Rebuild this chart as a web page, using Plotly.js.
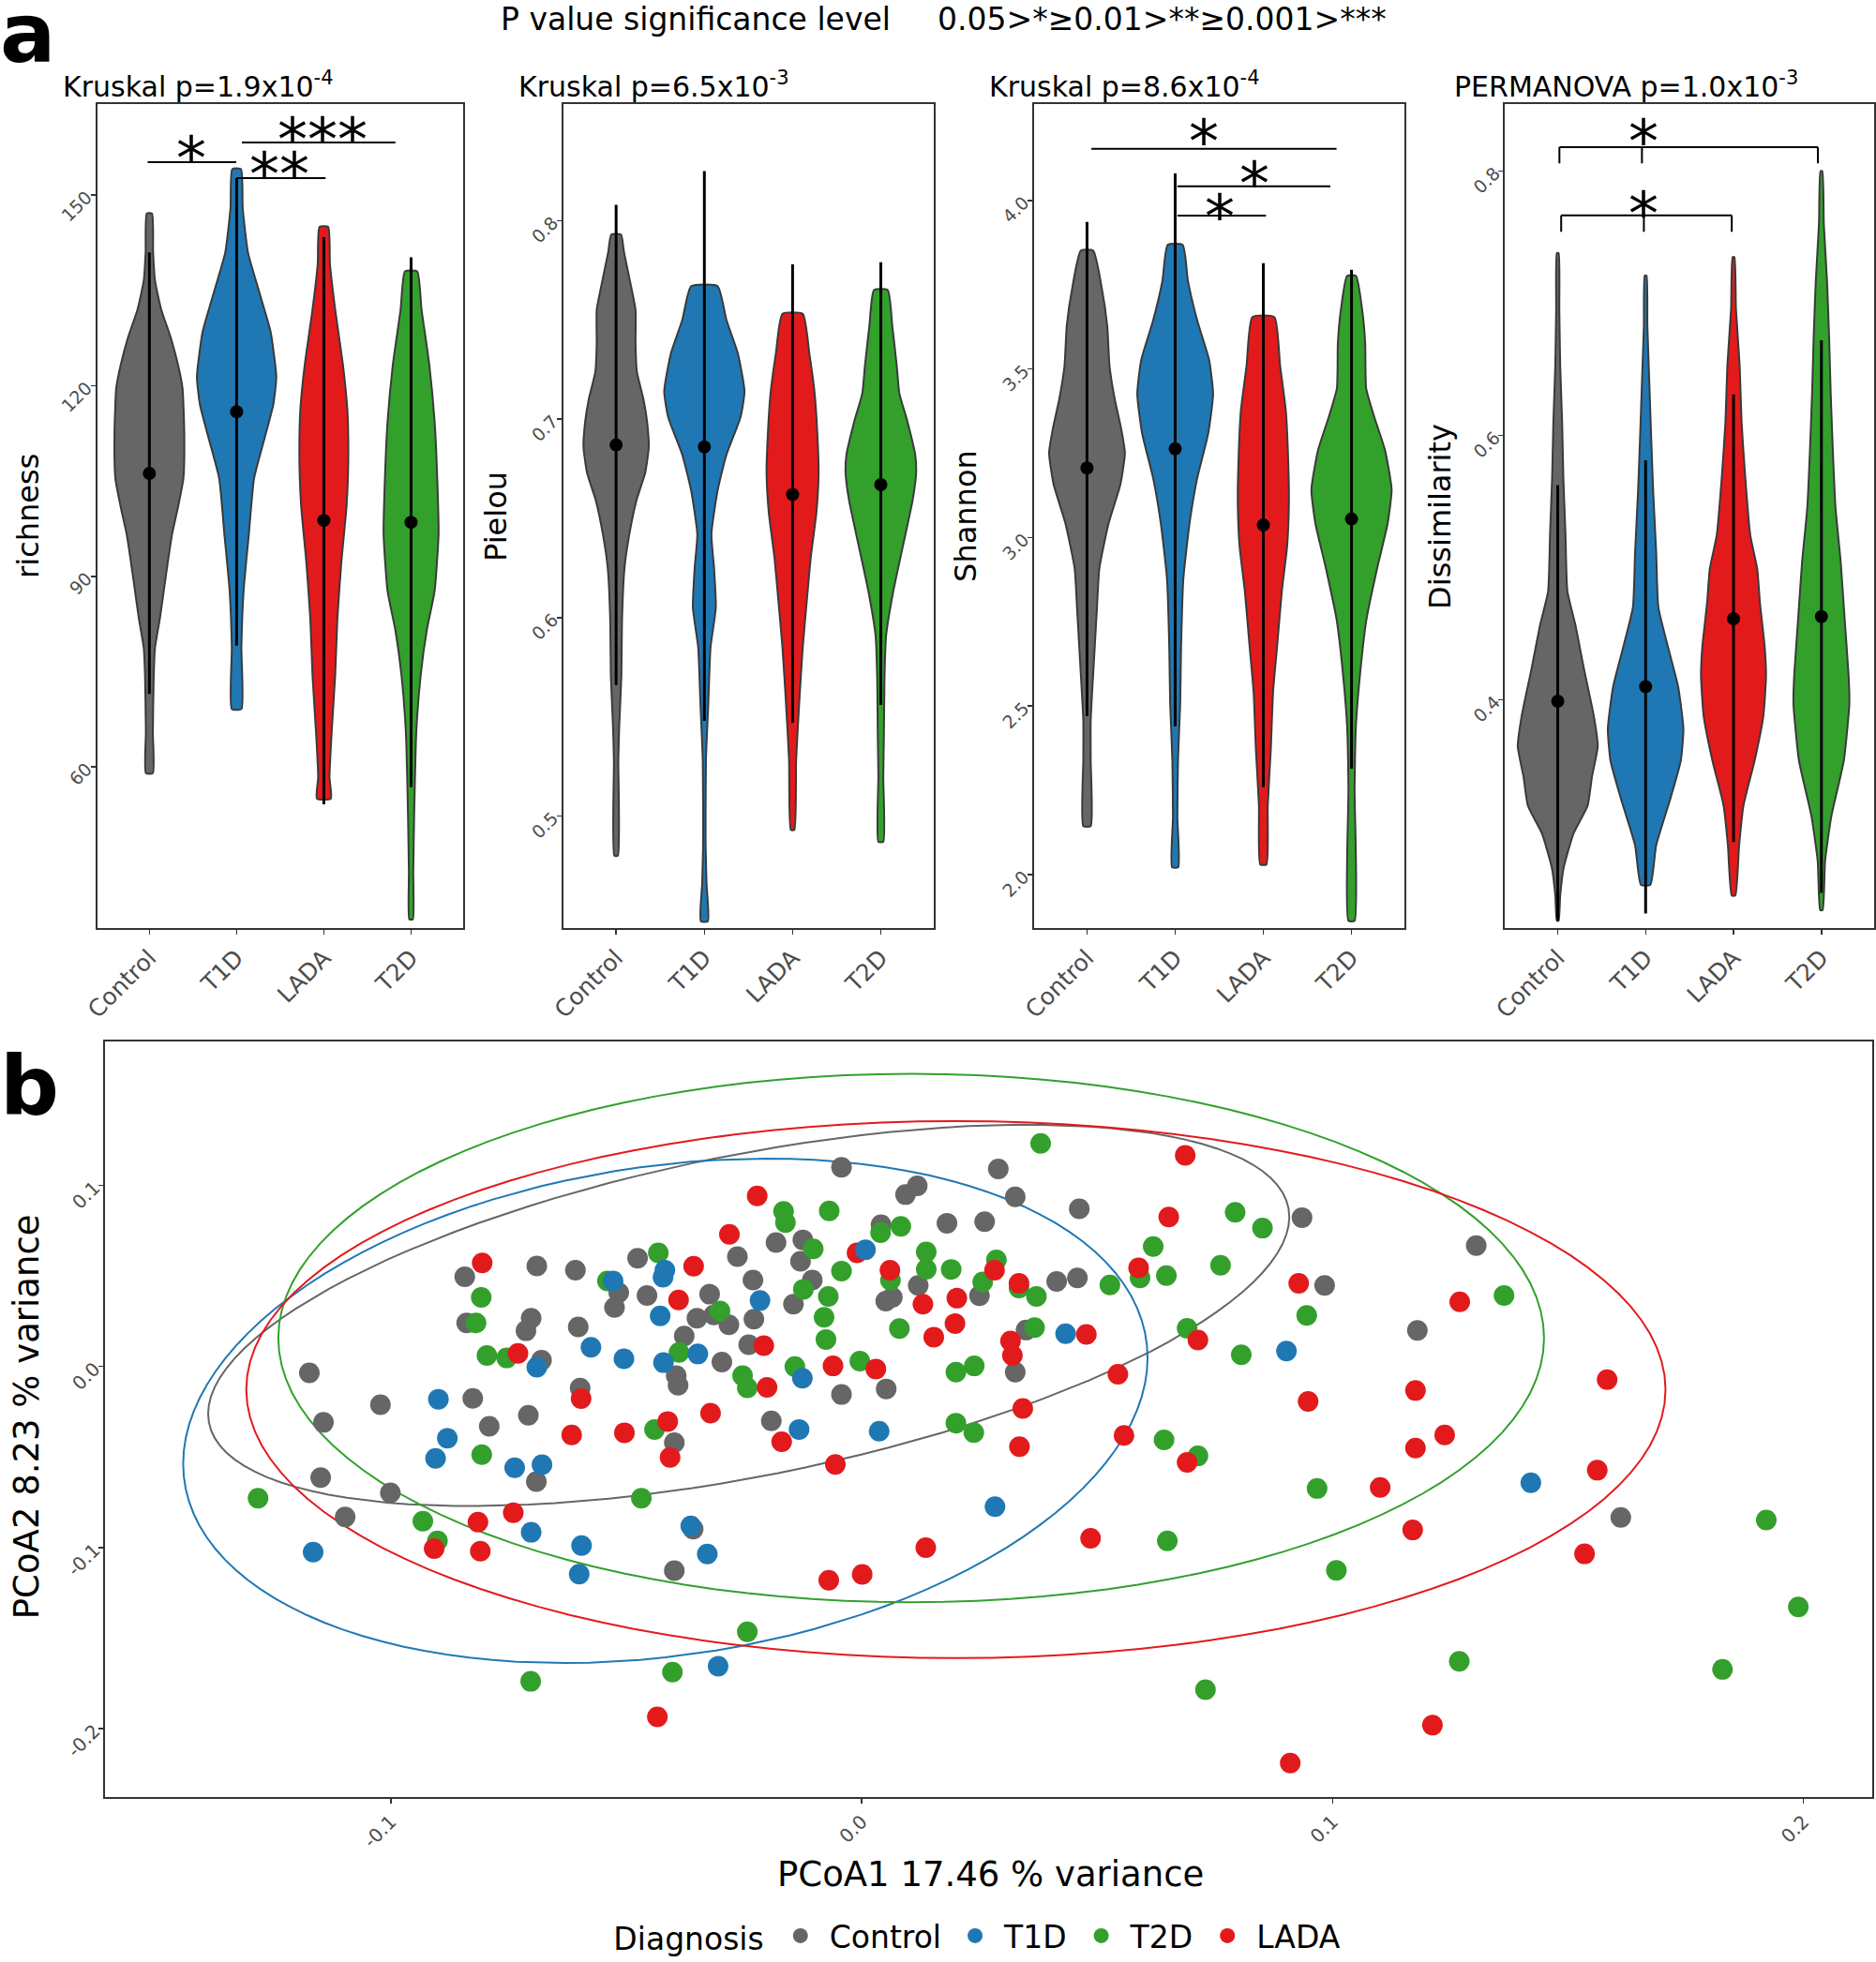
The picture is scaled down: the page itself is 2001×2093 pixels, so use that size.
<!DOCTYPE html>
<html><head><meta charset="utf-8">
<script src="https://cdn.plot.ly/plotly-3.0.1.min.js"></script>
<style>body{margin:0;background:#fff}</style></head>
<body><div id="chart" style="width:2001px;height:2093px"></div>
<script>
// ---------- categories ----------
const groups = ['Control', 'T1D', 'LADA', 'T2D'];
const groupColors = ['#666666', '#1F78B4', '#E31A1C', '#33A02C'];

// ---------- richness violins (value, half-width) ----------
const richControlY = [59, 65.5, 74.4, 78.8, 83.3, 87.7, 92.1, 96.6, 101, 105.4, 112.5, 119.6, 123.2, 127.6, 132, 136.5, 141, 147.1];
const richControlW = [0.04, 0.04, 0.05, 0.065, 0.12, 0.165, 0.21, 0.26, 0.33, 0.39, 0.40, 0.38, 0.33, 0.245, 0.136, 0.065, 0.043, 0.03];
const richT1DY = [69.1, 78.8, 87.7, 96.6, 105.4, 111.7, 117, 121.4, 128.5, 133.8, 141, 148, 154.1];
const richT1DW = [0.055, 0.055, 0.08, 0.14, 0.20, 0.32, 0.42, 0.455, 0.39, 0.28, 0.13, 0.07, 0.05];
const richLADAY = [55, 58.4, 65.5, 74.4, 83.3, 92.1, 101, 108.1, 116.1, 123.2, 132, 139.2, 145];
const richLADAW = [0.08, 0.065, 0.09, 0.13, 0.155, 0.20, 0.26, 0.28, 0.27, 0.22, 0.13, 0.07, 0.05];
const richT2DY = [36, 43.4, 52.2, 65.5, 74.4, 81.5, 87.7, 96.6, 105.4, 114.3, 123.2, 132, 138];
const richT2DW = [0.02, 0.025, 0.035, 0.06, 0.11, 0.18, 0.27, 0.315, 0.30, 0.27, 0.21, 0.12, 0.07];
const richMean = [106.2, 115.9, 98.8, 98.5];
const richLow = [71.5, 79.1, 54.1, 56.8];
const richHigh = [141, 152.7, 143.4, 140.2];

// ---------- Pielou violins ----------
const pielControlY = [0.480, 0.528, 0.545, 0.571, 0.599, 0.625, 0.642, 0.659, 0.673, 0.686, 0.699, 0.710, 0.724, 0.738, 0.755, 0.770, 0.784, 0.793];
const pielControlW = [0.02, 0.025, 0.035, 0.06, 0.067, 0.095, 0.15, 0.23, 0.33, 0.37, 0.35, 0.31, 0.235, 0.22, 0.22, 0.155, 0.09, 0.055];
const pielT1DY = [0.447, 0.466, 0.486, 0.528, 0.557, 0.585, 0.605, 0.625, 0.642, 0.664, 0.682, 0.701, 0.714, 0.733, 0.750, 0.767];
const pielT1DW = [0.04, 0.025, 0.014, 0.018, 0.045, 0.07, 0.13, 0.11, 0.08, 0.15, 0.25, 0.41, 0.455, 0.38, 0.25, 0.15];
const pielLADAY = [0.493, 0.528, 0.557, 0.585, 0.608, 0.630, 0.653, 0.673, 0.693, 0.713, 0.733, 0.753];
const pielLADAW = [0.02, 0.04, 0.075, 0.115, 0.16, 0.205, 0.27, 0.295, 0.28, 0.25, 0.19, 0.115];
const pielT2DY = [0.487, 0.520, 0.542, 0.571, 0.591, 0.613, 0.636, 0.659, 0.673, 0.682, 0.699, 0.713, 0.727, 0.747, 0.765];
const pielT2DW = [0.028, 0.028, 0.035, 0.042, 0.06, 0.14, 0.25, 0.36, 0.40, 0.39, 0.30, 0.21, 0.18, 0.13, 0.078];
const pielMean = [0.687, 0.686, 0.662, 0.667];
const pielLow = [0.566, 0.548, 0.547, 0.556];
const pielHigh = [0.808, 0.825, 0.778, 0.779];

// ---------- Shannon violins ----------
const shanControlY = [2.144, 2.34, 2.457, 2.64, 2.791, 2.908, 3.042, 3.159, 3.251, 3.326, 3.41, 3.51, 3.627, 3.744, 3.851];
const shanControlW = [0.042, 0.042, 0.042, 0.08, 0.113, 0.14, 0.245, 0.38, 0.43, 0.385, 0.315, 0.255, 0.23, 0.165, 0.07];
const shanT1DY = [2.022, 2.172, 2.34, 2.507, 2.674, 2.875, 3.042, 3.176, 3.309, 3.426, 3.527, 3.644, 3.761, 3.868];
const shanT1DW = [0.035, 0.025, 0.032, 0.057, 0.067, 0.092, 0.163, 0.25, 0.375, 0.43, 0.385, 0.25, 0.145, 0.085];
const shanLADAY = [2.03, 2.205, 2.373, 2.54, 2.674, 2.841, 2.975, 3.109, 3.243, 3.376, 3.51, 3.654];
const shanLADAW = [0.035, 0.05, 0.085, 0.11, 0.155, 0.21, 0.27, 0.29, 0.28, 0.255, 0.19, 0.125];
const shanT2DY = [1.863, 2.256, 2.44, 2.59, 2.758, 2.908, 3.042, 3.142, 3.259, 3.36, 3.443, 3.577, 3.677, 3.776];
const shanT2DW = [0.035, 0.035, 0.05, 0.095, 0.17, 0.29, 0.41, 0.455, 0.38, 0.255, 0.166, 0.155, 0.12, 0.05];
const shanMean = [3.206, 3.263, 3.037, 3.055];
const shanLow = [2.47, 2.44, 2.259, 2.314];
const shanHigh = [3.936, 4.08, 3.814, 3.794];

// ---------- Dissimilarity violins ----------
const dissControlY = [0.233, 0.252, 0.273, 0.299, 0.320, 0.342, 0.365, 0.388, 0.423, 0.457, 0.482, 0.525, 0.568, 0.610, 0.653, 0.6955, 0.738];
const dissControlW = [0.01, 0.028, 0.067, 0.18, 0.34, 0.39, 0.455, 0.41, 0.30, 0.20, 0.11, 0.088, 0.064, 0.05, 0.028, 0.018, 0.01];
const dissT1DY = [0.26, 0.29, 0.325, 0.354, 0.378, 0.41, 0.44, 0.47, 0.512, 0.555, 0.597, 0.640, 0.683, 0.721];
const dissT1DW = [0.053, 0.12, 0.28, 0.40, 0.43, 0.37, 0.255, 0.145, 0.12, 0.088, 0.064, 0.042, 0.02, 0.01];
const dissLADAY = [0.252, 0.29, 0.320, 0.354, 0.388, 0.418, 0.44, 0.474, 0.499, 0.525, 0.568, 0.610, 0.653, 0.6955, 0.735];
const dissLADAW = [0.02, 0.064, 0.113, 0.24, 0.34, 0.37, 0.355, 0.30, 0.27, 0.19, 0.134, 0.092, 0.07, 0.028, 0.01];
const dissT2DY = [0.241, 0.278, 0.312, 0.354, 0.397, 0.418, 0.461, 0.504, 0.546, 0.589, 0.632, 0.674, 0.717, 0.7595, 0.8];
const dissT2DW = [0.014, 0.042, 0.113, 0.255, 0.318, 0.31, 0.265, 0.22, 0.16, 0.13, 0.106, 0.088, 0.064, 0.028, 0.01];
const dissMean = [0.399, 0.41, 0.4614, 0.463];
const dissLow = [0.233, 0.2384, 0.2925, 0.254];
const dissHigh = [0.5625, 0.5812, 0.631, 0.672];

// ---------- significance annotations ----------
const richBrkX0 = [0.98, 2.06, 2.0];
const richBrkX1 = [1.996, 3.82, 3.02];
const richBrkY = [155.2, 158.3, 152.7];
const richStarX = [1.48, 2.985, 2.49];
const richStarY = [158.0, 161.0, 155.5];
const richStarT = ['*', '***', '**'];

const shanBrkX0 = [1.05, 2.025, 2.025];
const shanBrkX1 = [3.83, 3.76, 3.03];
const shanBrkY = [4.153, 4.042, 3.955];
const shanStarX = [2.325, 2.90, 2.508];
const shanStarY = [4.215, 4.091, 3.994];
const shanStarT = ['*', '*', '*'];

const dissBrkX0 = [1.019, 1.039];
const dissBrkXm = [1.958, 1.98];
const dissBrkX1 = [3.96, 2.98];
const dissBrkY = [0.818, 0.7665];
const dissBrkTickY = [0.8058, 0.754];
const dissStarX = [1.979, 1.98];
const dissStarY = [0.8328, 0.7787];
const dissStarT = ['*', '*'];

// ---------- PCoA points ----------
const controlX = [-0.0843,-0.0839,-0.069,-0.0608,-0.0702,-0.0713,-0.0602,-0.068,-0.1173,-0.0476,-0.0516,-0.0525,-0.0456,-0.0323,-0.035,-0.0314,-0.0282,-0.0377,-0.0394,-0.0297,-0.0264,-0.0598,-0.0043,0.0118,0.0093,0.029,0.0326,0.0462,0.0935,0.0041,0.0181,0.0261,-0.0182,-0.0125,-0.013,0.0414,0.0458,-0.0231,-0.0229,-0.0105,-0.0145,0.012,0.0065,0.0051,0.025,0.0349,0.0326,-0.024,0.0052,-0.039,-0.0043,-0.1022,-0.0826,-0.1143,-0.0708,-0.0791,-0.0691,-0.0398,-0.0192,-0.1149,-0.1001,-0.1097,-0.0358,-0.0398,0.1305,0.0983,0.118,0.1612];
const controlY = [0.0495,0.0240,0.0555,0.0532,0.0266,0.0197,0.0218,0.0034,-0.0035,0.0598,0.0407,0.0326,0.0392,0.0399,0.0266,0.0284,0.0230,0.0168,-0.0051,0.0024,0.0607,-0.0120,0.1100,0.0997,0.0949,0.1091,0.0937,0.0871,0.0822,0.0782,0.0791,0.0799,0.0684,0.0699,0.0581,0.0469,0.0489,0.0477,0.0261,0.0477,0.0344,0.0447,0.0381,0.0361,0.0390,0.0201,-0.0031,0.0120,-0.0124,-0.0104,-0.0155,-0.0211,-0.0176,-0.0309,-0.0270,-0.0330,-0.0636,-0.0421,-0.0301,-0.0614,-0.0698,-0.0831,-0.0898,-0.1128,0.0667,0.0447,0.0199,-0.0834];

const t1dX = [-0.069,-0.0575,-0.0505,-0.0418,-0.0422,-0.0528,-0.0428,-0.0348,-0.0421,0.0008,-0.0216,0.0433,0.0902,-0.0126,-0.0899,-0.088,-0.0905,-0.0737,-0.0679,-0.0133,0.0037,-0.1165,-0.0702,-0.0595,-0.06,-0.0363,-0.0328,-0.0305,0.1421,0.0283];
const t1dY = [-0.0004,0.0106,0.0042,0.0532,0.0493,0.0472,0.0279,0.0069,0.0021,0.0644,0.0364,0.0181,0.0085,-0.0065,-0.0181,-0.0396,-0.0508,-0.0559,-0.0543,-0.0348,-0.0358,-0.1025,-0.0916,-0.0989,-0.1147,-0.0881,-0.1036,-0.1656,-0.0642,-0.0774];

const t2dX = [-0.0808,-0.0819,-0.0796,-0.0754,-0.0432,-0.054,-0.0301,-0.0388,-0.0253,0.038,0.0793,0.0851,-0.0166,-0.0162,-0.0069,0.004,0.0083,-0.0103,0.0137,0.0137,0.0061,0.019,0.0286,0.0257,0.0334,0.0371,0.0527,0.0591,0.0619,0.0647,0.0762,0.0945,-0.0124,-0.0043,-0.0071,-0.008,-0.0076,0.008,0.0367,0.0691,0.0806,-0.0142,-0.0004,0.02,0.0239,-0.0243,-0.0807,-0.044,-0.1282,-0.0932,-0.0901,-0.0468,-0.0243,-0.0402,-0.0703,0.02,0.0238,0.0642,0.0714,0.0967,0.1921,0.1989,0.0649,0.1008,0.1269,0.1828,0.073,0.1364];
const t2dY = [0.0381,0.0240,0.0060,0.0047,0.0627,0.0472,0.0306,0.0077,-0.0051,0.1232,0.0851,0.0764,0.0856,0.0794,0.0859,0.0739,0.0774,0.0649,0.0632,0.0537,0.0476,0.0536,0.0588,0.0467,0.0433,0.0387,0.0450,0.0489,0.0662,0.0502,0.0559,0.0282,0.0426,0.0527,0.0387,0.0271,0.0149,0.0209,0.0214,0.0211,0.0064,-0.0001,0.0029,-0.0031,0.0003,-0.0118,-0.0487,-0.0349,-0.0728,-0.0855,-0.0963,-0.0728,-0.1465,-0.1688,-0.1739,-0.0313,-0.0365,-0.0405,-0.0494,-0.0674,-0.0848,-0.1328,-0.0963,-0.1126,-0.1628,-0.1673,-0.1785,0.0392];

const ladaX = [-0.0806,-0.073,-0.0357,-0.0389,-0.0281,-0.0222,0.0687,0.0652,-0.001,0.006,0.0282,0.0334,0.0588,0.0928,0.013,0.0202,0.0153,0.0198,0.0316,0.032,0.0477,0.0714,0.0544,-0.0208,-0.0061,0.003,-0.0201,-0.0596,-0.0616,-0.0504,-0.0412,-0.0407,-0.0321,-0.017,-0.0056,-0.0908,-0.0815,-0.081,-0.074,0.0136,-0.007,0.0001,0.0342,0.0335,0.0557,0.0691,0.0948,0.1176,0.1583,0.1238,0.1176,0.1101,0.1562,0.1535,0.0486,0.117,0.1212,0.091,0.127,-0.0434];
const ladaY = [0.0572,0.0072,0.0554,0.0367,0.0730,0.0942,0.1166,0.0825,0.0627,0.0532,0.0532,0.0459,0.0544,0.0459,0.0344,0.0377,0.0162,0.0237,0.0141,0.0060,0.0177,0.0146,-0.0043,0.0115,0.0003,-0.0014,-0.0116,-0.0178,-0.0378,-0.0366,-0.0304,-0.0503,-0.0258,-0.0416,-0.0541,-0.1006,-0.0860,-0.1020,-0.0808,-0.1001,-0.1181,-0.1148,-0.0232,-0.0443,-0.0381,-0.0530,-0.0193,-0.0133,-0.0073,-0.0378,-0.0451,-0.0668,-0.0573,-0.1035,-0.0949,-0.0903,-0.1981,-0.2190,0.0357,-0.1935];

// ---------- 95% ellipses: centre, x half-extent, y half-extent, tilt ----------
const ellGroups = ['Control', 'T1D', 'T2D', 'LADA'];
const ellColors = ['#666666', '#1F78B4', '#33A02C', '#E31A1C'];
const ellCx = [-0.024, -0.0417, 0.0105, 0.020];
const ellCy = [0.0282, -0.0245, 0.0157, -0.0128];
const ellRx = [0.1148, 0.1024, 0.1344, 0.1507];
const ellRy = [0.1053, 0.1393, 0.1459, 0.1483];
const ellTilt = [0.516, 0.21, 0.0, 0.0];

// ---------- tick labels ----------
const pcoaXTicks = [-0.1, 0, 0.1, 0.2];
const pcoaXTickText = ['-0.1', '0.0', '0.1', '0.2'];
const pcoaYTicks = [-0.2, -0.1, 0, 0.1];
const pcoaYTickText = ['-0.2', '-0.1', '0.0', '0.1'];

// ================= build =================
const FONT = 'DejaVu Sans';
const traces = [];
const shapes = [];
const annotations = [];

function violin(xc, ys, ws, color, xa, ya) {
  const x = [], y = [];
  for (let i = 0; i < ys.length; i++) { x.push(xc + ws[i]); y.push(ys[i]); }
  for (let i = ys.length - 1; i >= 0; i--) { x.push(xc - ws[i]); y.push(ys[i]); }
  x.push(x[0]); y.push(y[0]);
  traces.push({type: 'scatter', mode: 'lines', x: x, y: y, fill: 'toself', fillcolor: color,
    line: {color: '#3a3a3a', width: 2, shape: 'spline', smoothing: 0.5},
    xaxis: xa, yaxis: ya, showlegend: false, hoverinfo: 'skip'});
}
function summary(mean, lo, hi, xa, ya) {
  const x = [], y = [];
  for (let i = 0; i < mean.length; i++) { x.push(i + 1, i + 1, null); y.push(lo[i], hi[i], null); }
  traces.push({type: 'scatter', mode: 'lines', x: x, y: y, line: {color: '#000', width: 3},
    xaxis: xa, yaxis: ya, showlegend: false, hoverinfo: 'skip'});
  traces.push({type: 'scatter', mode: 'markers', x: [1, 2, 3, 4], y: mean,
    marker: {color: '#000', size: 14}, xaxis: xa, yaxis: ya, showlegend: false, hoverinfo: 'skip'});
}
function stars(xs, ys, ts, xr, yr) {
  for (let i = 0; i < xs.length; i++) {
    annotations.push({x: xs[i], y: ys[i], xref: xr, yref: yr, text: ts[i], showarrow: false,
      font: {family: FONT, size: 64, color: '#000'}, xanchor: 'center', yanchor: 'middle', yshift: -15});
  }
}
function hline(x0, x1, y, xr, yr) {
  shapes.push({type: 'line', xref: xr, yref: yr, x0: x0, x1: x1, y0: y, y1: y, line: {color: '#000', width: 2}});
}
function vline(x, y0, y1, xr, yr) {
  shapes.push({type: 'line', xref: xr, yref: yr, x0: x, x1: x, y0: y0, y1: y1, line: {color: '#000', width: 2}});
}

const panels = [
  {xa: 'x', ya: 'y', Y: [richControlY, richT1DY, richLADAY, richT2DY], W: [richControlW, richT1DW, richLADAW, richT2DW], m: richMean, lo: richLow, hi: richHigh},
  {xa: 'x2', ya: 'y2', Y: [pielControlY, pielT1DY, pielLADAY, pielT2DY], W: [pielControlW, pielT1DW, pielLADAW, pielT2DW], m: pielMean, lo: pielLow, hi: pielHigh},
  {xa: 'x3', ya: 'y3', Y: [shanControlY, shanT1DY, shanLADAY, shanT2DY], W: [shanControlW, shanT1DW, shanLADAW, shanT2DW], m: shanMean, lo: shanLow, hi: shanHigh},
  {xa: 'x4', ya: 'y4', Y: [dissControlY, dissT1DY, dissLADAY, dissT2DY], W: [dissControlW, dissT1DW, dissLADAW, dissT2DW], m: dissMean, lo: dissLow, hi: dissHigh}
];
panels.forEach(p => {
  for (let g = 0; g < 4; g++) violin(g + 1, p.Y[g], p.W[g], groupColors[g], p.xa, p.ya);
  summary(p.m, p.lo, p.hi, p.xa, p.ya);
});

for (let i = 0; i < richBrkY.length; i++) hline(richBrkX0[i], richBrkX1[i], richBrkY[i], 'x', 'y');
stars(richStarX, richStarY, richStarT, 'x', 'y');
for (let i = 0; i < shanBrkY.length; i++) hline(shanBrkX0[i], shanBrkX1[i], shanBrkY[i], 'x3', 'y3');
stars(shanStarX, shanStarY, shanStarT, 'x3', 'y3');
for (let i = 0; i < dissBrkY.length; i++) {
  hline(dissBrkX0[i], dissBrkX1[i], dissBrkY[i], 'x4', 'y4');
  vline(dissBrkX0[i], dissBrkTickY[i], dissBrkY[i], 'x4', 'y4');
  vline(dissBrkXm[i], dissBrkTickY[i], dissBrkY[i], 'x4', 'y4');
  vline(dissBrkX1[i], dissBrkTickY[i], dissBrkY[i], 'x4', 'y4');
}
stars(dissStarX, dissStarY, dissStarT, 'x4', 'y4');

// ellipses
for (let e = 0; e < ellCx.length; e++) {
  const phi = Math.acos(ellTilt[e]);
  const x = [], y = [];
  for (let k = 0; k <= 120; k++) {
    const t = 2 * Math.PI * k / 120;
    x.push(ellCx[e] + ellRx[e] * Math.cos(t));
    y.push(ellCy[e] + ellRy[e] * Math.cos(t - phi));
  }
  traces.push({type: 'scatter', mode: 'lines', x: x, y: y, line: {color: ellColors[e], width: 2},
    xaxis: 'x5', yaxis: 'y5', showlegend: false, hoverinfo: 'skip'});
}
// points (draw order gray, green, red, blue)
const pts = [
  {name: 'Control', x: controlX, y: controlY, c: '#666666', rank: 1},
  {name: 'T2D', x: t2dX, y: t2dY, c: '#33A02C', rank: 3},
  {name: 'LADA', x: ladaX, y: ladaY, c: '#E31A1C', rank: 4},
  {name: 'T1D', x: t1dX, y: t1dY, c: '#1F78B4', rank: 2}
];
pts.forEach(p => traces.push({type: 'scatter', mode: 'markers', name: p.name, x: p.x, y: p.y,
  marker: {color: p.c, size: 22}, xaxis: 'x5', yaxis: 'y5', legendrank: p.rank, hoverinfo: 'skip'}));

// ---------- axes ----------
const W = 2001, H = 2093;
function dx(a, b) { return [a / W, b / W]; }
function dy(top, bottom) { return [1 - bottom / H, 1 - top / H]; }
const frame = {showline: true, mirror: true, linecolor: '#333333', linewidth: 2, showgrid: false, zeroline: false,
  ticks: 'outside', ticklen: 5, tickcolor: '#333333', tickwidth: 1.5};
function catAxis(domain, anchor) {
  return Object.assign({}, frame, {domain: domain, anchor: anchor, range: [0.4, 4.6], tickvals: [1, 2, 3, 4],
    ticktext: groups, tickangle: -45, tickfont: {family: FONT, size: 25, color: '#4d4d4d'}});
}
function valAxis(domain, anchor, range, tv, fmt) {
  return Object.assign({}, frame, {domain: domain, anchor: anchor, range: range, tickvals: tv, tickformat: fmt,
    tickangle: -45, tickfont: {family: FONT, size: 19, color: '#4d4d4d'}});
}
const yDomA = dy(111.7, 994);
const layout = {
  width: W, height: H, margin: {l: 0, r: 0, t: 0, b: 0}, paper_bgcolor: '#fff', plot_bgcolor: '#fff',
  font: {family: FONT, color: '#000'},
  xaxis: catAxis(dx(103.5, 494.3), 'y'),
  yaxis: valAxis(yDomA, 'x', [34.6, 164.3], [60, 90, 120, 150], 'd'),
  xaxis2: catAxis(dx(600.7, 996), 'y2'),
  yaxis2: valAxis(yDomA, 'x2', [0.4435, 0.8586], [0.5, 0.6, 0.7, 0.8], '.1f'),
  xaxis3: catAxis(dx(1103, 1498), 'y3'),
  yaxis3: valAxis(yDomA, 'x3', [1.841, 4.285], [2.0, 2.5, 3.0, 3.5, 4.0], '.1f'),
  xaxis4: catAxis(dx(1605.3, 1999), 'y4'),
  yaxis4: valAxis(yDomA, 'x4', [0.2273, 0.8505], [0.4, 0.6, 0.8], '.1f'),
  xaxis5: Object.assign({}, frame, {domain: dx(112, 1997), anchor: 'y5', range: [-0.1607, 0.2146],
    tickvals: pcoaXTicks, ticktext: pcoaXTickText, tickangle: -45, tickfont: {family: FONT, size: 20, color: '#4d4d4d'}}),
  yaxis5: Object.assign({}, frame, {domain: dy(1115.2, 1924), anchor: 'x5', range: [-0.2376, 0.1795],
    tickvals: pcoaYTicks, ticktext: pcoaYTickText, tickangle: -45, tickfont: {family: FONT, size: 20, color: '#4d4d4d'}}),
  shapes: shapes,
  showlegend: true,
  legend: {orientation: 'h', x: 0.326, xanchor: 'left', y: 1 - 2073 / H, yanchor: 'middle',
    font: {family: FONT, size: 33, color: '#000'}, title: {text: 'Diagnosis', side: 'left', font: {family: FONT, size: 33}},
    bgcolor: 'rgba(0,0,0,0)', itemwidth: 52}
};

function txt(x, y, text, size, opts) {
  annotations.push(Object.assign({x: x / W, y: 1 - y / H, xref: 'paper', yref: 'paper', text: text, showarrow: false,
    xanchor: 'center', yanchor: 'middle', font: {family: FONT, size: size, color: '#000'}}, opts || {}));
}
// headings
txt(0, 89, '<b>a</b>', 88, {xanchor: 'left', yanchor: 'bottom', xshift: -2});
txt(0, 1216, '<b>b</b>', 88, {xanchor: 'left', yanchor: 'bottom', xshift: -2});
txt(532, 42, 'P value significance level', 33, {xanchor: 'left', yanchor: 'bottom'});
txt(998, 42, '0.05>*≥0.01>**≥0.001>***', 33, {xanchor: 'left', yanchor: 'bottom'});
txt(65, 112, 'Kruskal p=1.9x10<sup>-4</sup>', 30, {xanchor: 'left', yanchor: 'bottom'});
txt(551, 112, 'Kruskal p=6.5x10<sup>-3</sup>', 30, {xanchor: 'left', yanchor: 'bottom'});
txt(1053, 112, 'Kruskal p=8.6x10<sup>-4</sup>', 30, {xanchor: 'left', yanchor: 'bottom'});
txt(1549, 112, 'PERMANOVA p=1.0x10<sup>-3</sup>', 30, {xanchor: 'left', yanchor: 'bottom'});
// axis titles
txt(30, 553, 'richness', 32, {textangle: -90});
txt(529, 553, 'Pielou', 32, {textangle: -90});
txt(1030, 553, 'Shannon', 32, {textangle: -90});
txt(1536, 553, 'Dissimilarity', 32, {textangle: -90});
txt(28, 1517, 'PCoA2 8.23 % variance', 37, {textangle: -90});
txt(1056, 2007, 'PCoA1 17.46 % variance', 37, {});
layout.annotations = annotations;

Plotly.newPlot('chart', traces, layout, {staticPlot: true});
</script></body></html>
